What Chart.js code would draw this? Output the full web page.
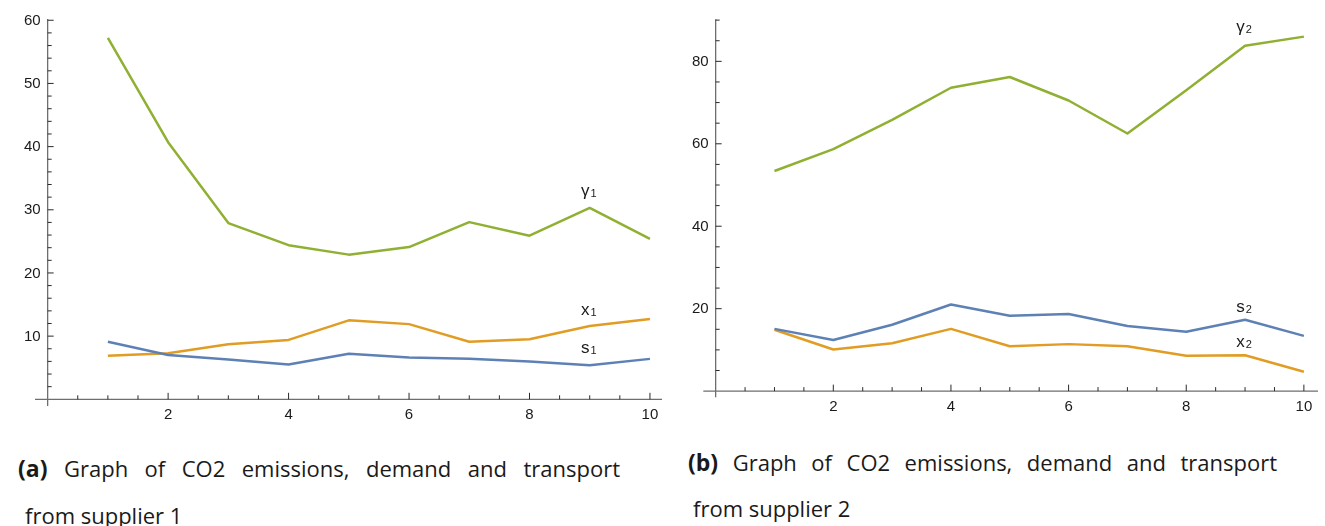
<!DOCTYPE html>
<html>
<head>
<meta charset="utf-8">
<script src="https://cdn.jsdelivr.net/npm/chart.js@4.4.0/dist/chart.umd.min.js"></script>
<style>
  body { margin: 0; background: #fff; width: 1325px; height: 526px; overflow: hidden; position: relative; font-family: 'Open Sans', sans-serif; color: #1a1a1a; }
  canvas { position: absolute; top: 0; }
  #chartA { left: 0; }
  #chartB { left: 665px; }
  .cap { position: absolute; font-size: 22px; line-height: 30px; white-space: nowrap; }
  .cap b { font-weight: 700; font-size: 23px; }
  .first { text-align: justify; text-align-last: justify; white-space: normal; }
</style>
</head>
<body>
<canvas id="chartA" width="665" height="440"></canvas>
<canvas id="chartB" width="660" height="440"></canvas>

<div class="cap first" style="left:18px; top:453px; width:602px;"><b>(a)</b> Graph of CO2 emissions, demand and transport</div>
<div class="cap" style="left:25px; top:500px;">from supplier 1</div>
<div class="cap first" style="left:688px; top:447px; width:589px;"><b>(b)</b> Graph of CO2 emissions, demand and transport</div>
<div class="cap" style="left:693px; top:493px;">from supplier 2</div>

<script>
// periods 1..10
const periods = [1, 2, 3, 4, 5, 6, 7, 8, 9, 10];

// supplier 1
const s1 = [9.1, 7.0, 6.3, 5.5, 7.2, 6.6, 6.4, 6.0, 5.4, 6.4];
const x1 = [6.9, 7.3, 8.7, 9.4, 12.5, 11.9, 9.1, 9.5, 11.6, 12.7];
const y1 = [57.2, 40.7, 27.9, 24.4, 22.9, 24.1, 28.05, 25.9, 30.3, 25.4];

// supplier 2
const s2 = [15.1, 12.4, 16.1, 21.0, 18.3, 18.7, 15.8, 14.4, 17.3, 13.4];
const x2 = [14.9, 10.1, 11.6, 15.1, 10.9, 11.4, 10.9, 8.6, 8.7, 4.7];
const y2 = [53.4, 58.7, 65.8, 73.6, 76.2, 70.5, 62.5, 73.0, 83.8, 86.0];

// tick labels
const xTicks = [2, 4, 6, 8, 10];
const yTicksA = [10, 20, 30, 40, 50, 60];
const yTicksB = [20, 40, 60, 80];

const BLUE = '#5E81B5', ORANGE = '#E19C24', GREEN = '#8FB032';

function pts(vals) {
  return periods.map((p, i) => ({ x: p, y: vals[i] }));
}

// mathematica-like axes crossing at the origin, ticks pointing inward
const axesPlugin = {
  id: 'mmaAxes',
  beforeDatasetsDraw(chart, args, opts) {
    const { ctx, chartArea: a, scales: { x, y } } = chart;
    const x0 = x.getPixelForValue(0), y0 = y.getPixelForValue(0);
    ctx.save();
    ctx.strokeStyle = '#6e6e6e';
    ctx.lineWidth = 1.3;
    ctx.beginPath();
    ctx.moveTo(a.left, y0); ctx.lineTo(a.right, y0);
    ctx.moveTo(x0, a.top); ctx.lineTo(x0, a.bottom);
    ctx.stroke();

    ctx.strokeStyle = '#2a2a2a';
    ctx.lineWidth = 1;
    ctx.beginPath();
    for (let i = 1; i * opts.xStep <= x.max; i++) {
      const v = i * opts.xStep;
      const px = x.getPixelForValue(v);
      const len = xTicks.includes(v) ? 6.5 : 4;
      ctx.moveTo(px, y0); ctx.lineTo(px, y0 - len);
    }
    for (let i = 1; i * opts.yStep <= y.max + 1e-6; i++) {
      const v = i * opts.yStep;
      const py = y.getPixelForValue(v);
      const len = opts.yTicks.includes(v) ? 6 : 4;
      ctx.moveTo(x0, py); ctx.lineTo(x0 + len, py);
    }
    ctx.stroke();

    ctx.fillStyle = '#1a1a1a';
    ctx.font = '15px "Liberation Sans", Arial, sans-serif';
    ctx.textAlign = 'right';
    ctx.textBaseline = 'middle';
    opts.yTicks.forEach(v => ctx.fillText(String(v), x0 - 7, y.getPixelForValue(v) + 0.5));
    ctx.textAlign = 'center';
    xTicks.forEach(v => ctx.fillText(String(v), x.getPixelForValue(v), y0 + 16));
    ctx.restore();
  },
  afterDatasetsDraw(chart, args, opts) {
    const { ctx, scales: { x, y } } = chart;
    ctx.save();
    ctx.fillStyle = '#1a1a1a';
    ctx.textBaseline = 'alphabetic';
    opts.notes.forEach(n => {
      ctx.font = '17px "Liberation Sans", Arial, sans-serif';
      const w1 = ctx.measureText(n.main).width;
      ctx.font = '11px "Liberation Sans", Arial, sans-serif';
      const w2 = ctx.measureText(n.sub).width;
      const left = x.getPixelForValue(n.x) - (w1 + w2 + 1) / 2 - 1;
      const base = y.getPixelForValue(n.y);
      ctx.textAlign = 'left';
      ctx.font = '17px "Liberation Sans", Arial, sans-serif';
      ctx.fillText(n.main, left, base);
      ctx.font = '11px "Liberation Sans", Arial, sans-serif';
      ctx.fillText(n.sub, left + w1 + 1, base + 1);
    });
    ctx.restore();
  }
};

function makeChart(id, series, range, pad, axesOpts) {
  return new Chart(document.getElementById(id), {
    type: 'line',
    data: {
      datasets: [
        { data: pts(series[0]), borderColor: BLUE },
        { data: pts(series[1]), borderColor: ORANGE },
        { data: pts(series[2]), borderColor: GREEN }
      ]
    },
    options: {
      responsive: false,
      animation: false,
      layout: { padding: pad },
      elements: {
        line: { borderWidth: 2.5, tension: 0, fill: false, borderJoinStyle: 'round' },
        point: { radius: 0 }
      },
      scales: {
        x: { type: 'linear', min: range[0], max: range[1], display: false },
        y: { type: 'linear', min: range[2], max: range[3], display: false }
      },
      plugins: {
        legend: { display: false },
        tooltip: { enabled: false },
        mmaAxes: axesOpts
      }
    },
    plugins: [axesPlugin]
  });
}

makeChart('chartA', [s1, x1, y1], [-0.21, 10.2, -1.06, 60.2],
  { left: 35, top: 19, right: 3, bottom: 34 },
  {
    xStep: 0.5, yStep: 2, yTicks: yTicksA,
    notes: [
      { main: 'γ', sub: '1', x: 9, y: 32.2 },
      { main: 'x', sub: '1', x: 9, y: 13.4 },
      { main: 's', sub: '1', x: 9, y: 7.35 }
    ]
  });

makeChart('chartB', [s2, x2, y2], [-0.21, 10.24, -1.5, 90.2],
  { left: 38.3, top: 19.3, right: 7, bottom: 42.7 },
  {
    xStep: 0.5, yStep: 5, yTicks: yTicksB,
    notes: [
      { main: 'γ', sub: '2', x: 9, y: 87.0 },
      { main: 's', sub: '2', x: 9, y: 19.2 },
      { main: 'x', sub: '2', x: 9, y: 10.7 }
    ]
  });
</script>
</body>
</html>
